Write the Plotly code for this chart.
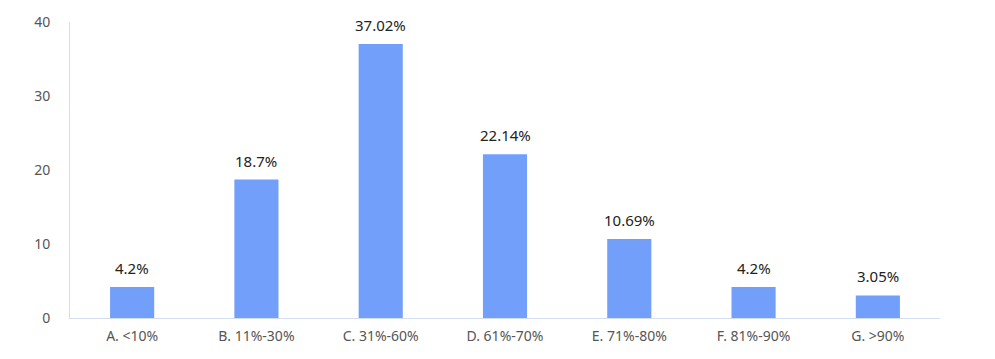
import plotly.graph_objects as go

categories = ["A. <10%", "B. 11%-30%", "C. 31%-60%", "D. 61%-70%", "E. 71%-80%", "F. 81%-90%", "G. >90%"]
values = [4.2, 18.7, 37.02, 22.14, 10.69, 4.2, 3.05]
labels = [f"{v}%" for v in values]
y_ticks = [0, 10, 20, 30, 40]

fig = go.Figure(go.Bar(
    x=categories, y=values,
    marker=dict(color="#729ffa", line=dict(width=0)),
    cliponaxis=False, hoverinfo="x+y",
))
for c, v, t in zip(categories, values, labels):
    fig.add_annotation(x=c, y=v, text=t, showarrow=False, yanchor="bottom", yshift=7,
                       font=dict(family="Noto Sans, Open Sans, sans-serif", size=15, color="#222"))
fig.update_layout(
    width=995, height=359,
    margin=dict(l=70, r=55, t=19, b=41),
    paper_bgcolor="white", plot_bgcolor="white",
    bargap=0.645, showlegend=False,
    font=dict(family="Noto Sans, Open Sans, sans-serif", size=14, color="#555"),
)
fig.update_xaxes(showline=True, linecolor="#d5def0", linewidth=1, showgrid=False,
                 ticks="", ticklabelstandoff=5, tickfont=dict(size=14, color="#555"))
fig.update_yaxes(range=[0, 40], tickvals=y_ticks, showline=True, linecolor="#d5def0", linewidth=1,
                 showgrid=False, zeroline=False, ticks="", ticklabelstandoff=16,
                 tickfont=dict(size=14, color="#555"))
fig.write_html("out.html")
